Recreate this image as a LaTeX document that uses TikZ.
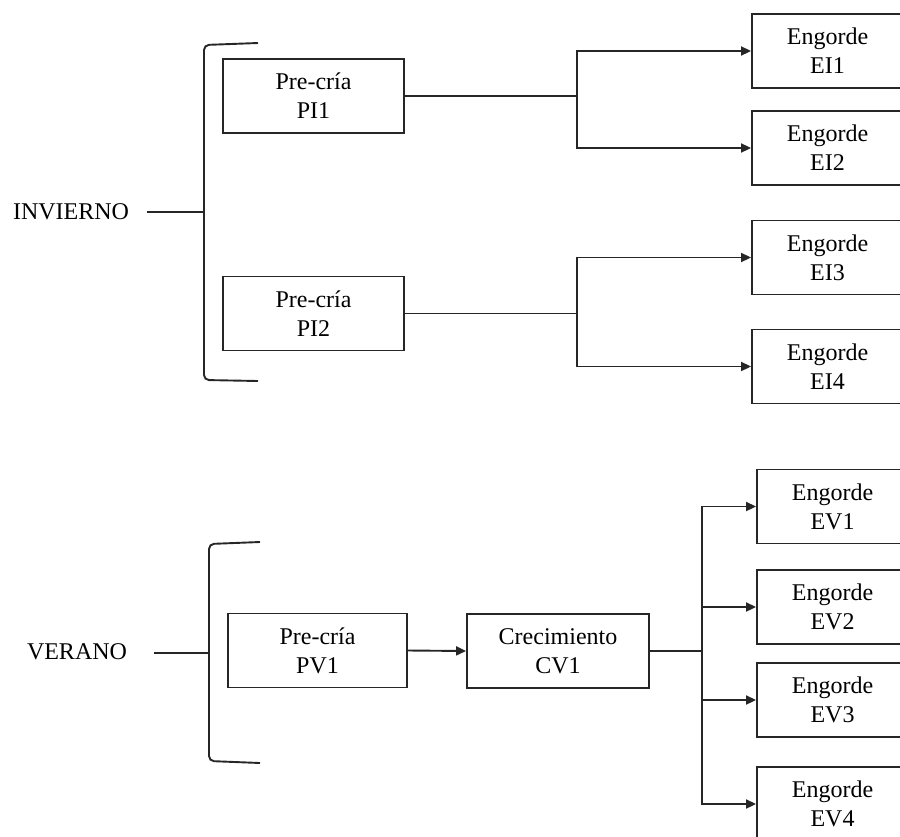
\documentclass[tikz,border=0pt]{standalone}
\usepackage{fontspec}
\setmainfont{Liberation Serif}
\usetikzlibrary{arrows.meta}
\begin{document}
\begin{tikzpicture}[x=1pt,y=-1pt,
  font=\fontsize{24}{29}\selectfont,
  ln/.style={line width=1.9pt,draw=black!85},
  box/.style={draw=black!85,line width=1.9pt,align=center,inner sep=0pt,
    minimum width=#1,minimum height=74pt},
  box/.default=181pt,
  arr/.style={ln,-{Triangle[length=10pt,width=9pt]}},
  brk/.style={ln,rounded corners=5pt},
  lbl/.style={inner sep=0pt}]
\useasboundingbox (0,0) rectangle (900,836);
\clip (0,0) rectangle (900,836);

% ---------- INVIERNO ----------
\node[lbl] (inv) at (71,212) {INVIERNO};
\coordinate (invs) at (147,212);
\coordinate (invb) at (204,212);
\draw[ln] (invs) -- (invb);
\draw[brk] (258,43) -- (204,45) -- (204,380) -- (258,381);

\node[box] (pi1) at (313.5,96) {Pre-cría\\PI1};
\node[box] (pi2) at (313.5,313.5) {Pre-cría\\PI2};

\node[box=151pt] (ei1) at (827.5,51) {Engorde\\EI1};
\node[box=151pt] (ei2) at (827.5,148) {Engorde\\EI2};
\node[box=151pt] (ei3) at (827.5,257.5) {Engorde\\EI3};
\node[box=151pt] (ei4) at (827.5,366.5) {Engorde\\EI4};

\coordinate (s1) at (577,96);
\coordinate (s2) at (577,313.5);
\draw[ln] (pi1.east) -- (s1);
\draw[arr] (s1) |- (ei1.west);
\draw[arr] (s1) |- (ei2.west);
\draw[ln] (pi2.east) -- (s2);
\draw[arr] (s2) |- (ei3.west);
\draw[arr] (s2) |- (ei4.west);

% ---------- VERANO ----------
\node[lbl] (ver) at (77,652) {VERANO};
\coordinate (vers) at (154,653);
\coordinate (verb) at (209,653);
\draw[ln] (vers) -- (verb);
\draw[brk] (260,542) -- (209,544) -- (209,761) -- (260,763);

\node[box=179pt] (pv1) at (317.5,650.5) {Pre-cría\\PV1};
\node[box=182pt] (cv1) at (558,651) {Crecimiento\\CV1};
\draw[arr] (pv1.east) -- (cv1.west);

\node[box=151pt] (ev1) at (832.5,506.5) {Engorde\\EV1};
\node[box=151pt] (ev2) at (832.5,607) {Engorde\\EV2};
\node[box=151pt] (ev3) at (832.5,700) {Engorde\\EV3};
\node[box=151pt] (ev4) at (832.5,804) {Engorde\\EV4};

\coordinate (s3) at (702,651);
\draw[ln] (cv1.east) -- (s3);
\draw[arr] (s3) |- (ev1.west);
\draw[arr] (s3) |- (ev2.west);
\draw[arr] (s3) |- (ev3.west);
\draw[arr] (s3) |- (ev4.west);
\end{tikzpicture}
\end{document}
